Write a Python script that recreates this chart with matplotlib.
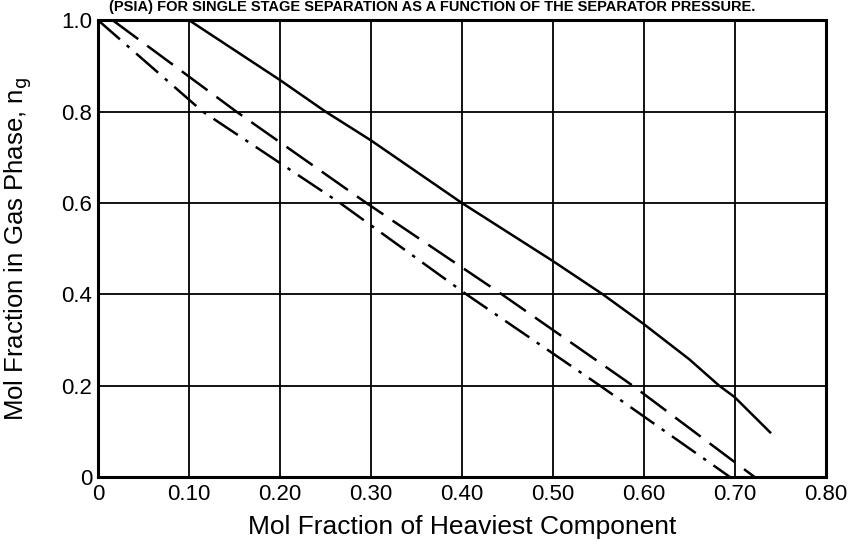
import matplotlib
matplotlib.use("Agg")
import matplotlib.pyplot as plt

# ── DATA ──────────────────────────────────────────────────────────
SOLID_X = [0.10, 0.20, 0.25, 0.30, 0.40, 0.50, 0.555, 0.60, 0.65, 0.683, 0.70, 0.74]
SOLID_Y = [1.00, 0.869, 0.80, 0.737, 0.60, 0.473, 0.40, 0.335, 0.258, 0.20, 0.175, 0.096]

DASHED_X = [0.016, 0.152, 0.295, 0.444, 0.588, 0.722]
DASHED_Y = [1.00, 0.80, 0.60, 0.40, 0.20, 0.00]

DASHDOT_X = [0.0, 0.115, 0.266, 0.405, 0.552, 0.695]
DASHDOT_Y = [1.00, 0.80, 0.60, 0.40, 0.20, 0.00]

X_TICKS = [0, 0.1, 0.2, 0.3, 0.4, 0.5, 0.6, 0.7, 0.8]
X_TICKLABELS = ["0", "0.10", "0.20", "0.30", "0.40", "0.50", "0.60", "0.70", "0.80"]
Y_TICKS = [0, 0.2, 0.4, 0.6, 0.8, 1.0]
Y_TICKLABELS = ["0", "0.2", "0.4", "0.6", "0.8", "1.0"]

CAPTION = "(PSIA) FOR SINGLE STAGE SEPARATION AS A FUNCTION OF THE SEPARATOR PRESSURE."

# ── STYLE ─────────────────────────────────────────────────────────
plt.rcParams.update({
    "font.family": ["Liberation Sans", "DejaVu Sans"],
    "lines.scale_dashes": False,
})

fig = plt.figure(figsize=(8.52, 5.44), dpi=100)
ax = fig.add_axes([0.115, 0.123, 0.854, 0.840])

LW = 1.8
ax.plot(SOLID_X, SOLID_Y, color="black", lw=LW, solid_capstyle="butt")
ax.plot(DASHED_X, DASHED_Y, color="black", lw=LW,
        dashes=(23, 8), dash_capstyle="butt")
ax.plot(DASHDOT_X, DASHDOT_Y, color="black", lw=LW,
        dashes=(21, 6.5, 2.5, 6.5), dash_capstyle="butt")

ax.set_xlim(0, 0.8)
ax.set_ylim(0, 1.0)
ax.set_xticks(X_TICKS)
ax.set_xticklabels(X_TICKLABELS)
ax.set_yticks(Y_TICKS)
ax.set_yticklabels(Y_TICKLABELS)
ax.tick_params(length=0, labelsize=16)
ax.tick_params(axis="x", pad=5)
ax.tick_params(axis="y", pad=4)

ax.grid(True, color="black", lw=1.3)
ax.set_axisbelow(True)
for s in ax.spines.values():
    s.set_linewidth(2.2)

ax.set_xlabel("Mol Fraction of Heaviest Component", fontsize=19)
ax.xaxis.set_label_coords(0.5, -0.082)
ax.set_ylabel(r"Mol Fraction in Gas Phase, n$_\mathrm{g}$", fontsize=18.5)
ax.yaxis.set_label_coords(-0.088, 0.5)

# caption line at the very top of the scan
fig.text(0.507, 1 - 10.5 / 544, CAPTION, ha="center", va="baseline",
         fontsize=10.5, weight="bold")

fig.savefig("out.png", dpi=100)
